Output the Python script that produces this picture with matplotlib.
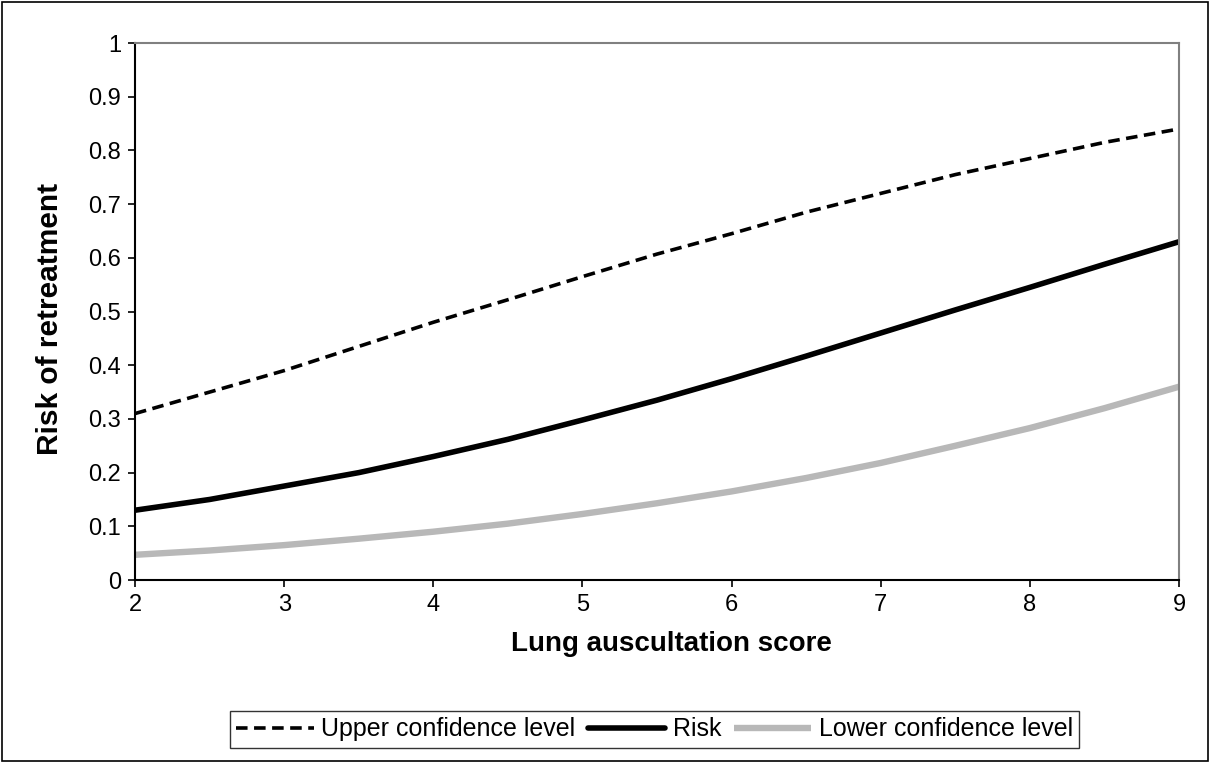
import matplotlib.pyplot as plt
from matplotlib.patches import Rectangle

plt.rcParams['font.family'] = ['Liberation Sans', 'DejaVu Sans']

# values
score = [2, 2.5, 3, 3.5, 4, 4.5, 5, 5.5, 6, 6.5, 7, 7.5, 8, 8.5, 9]
upper = [0.31, 0.35, 0.39, 0.435, 0.48, 0.522, 0.565, 0.607, 0.645, 0.685, 0.72, 0.755, 0.785, 0.815, 0.84]
risk = [0.13, 0.15, 0.175, 0.2, 0.23, 0.262, 0.298, 0.335, 0.375, 0.417, 0.46, 0.503, 0.545, 0.588, 0.63]
lower = [0.047, 0.055, 0.065, 0.077, 0.09, 0.105, 0.123, 0.143, 0.165, 0.19, 0.218, 0.25, 0.283, 0.32, 0.36]

xticks = [2, 3, 4, 5, 6, 7, 8, 9]
yticks = [0, 0.1, 0.2, 0.3, 0.4, 0.5, 0.6, 0.7, 0.8, 0.9, 1]
ylabels = ['0', '0.1', '0.2', '0.3', '0.4', '0.5', '0.6', '0.7', '0.8', '0.9', '1']

fig = plt.figure(figsize=(12.12, 7.63), dpi=100)
ax = fig.add_axes([0.1114, 0.2398, 0.8614, 0.7038])

ax.plot(score, upper, color='black', lw=2.6, linestyle=(0, (3.2, 1.8)),
        dash_capstyle='butt', label='Upper confidence level')
ax.plot(score, risk, color='black', lw=4.0, solid_capstyle='round', label='Risk')
ax.plot(score, lower, color='#b8b8b8', lw=4.6, solid_capstyle='butt',
        label='Lower confidence level')

ax.set_xlim(2, 9)
ax.set_ylim(0, 1)
ax.set_xticks(xticks)
ax.set_yticks(yticks)
ax.set_yticklabels(ylabels)
ax.tick_params(labelsize=17, length=5, width=1.2, direction='out', pad=5)
for s in ['top', 'right']:
    ax.spines[s].set_color('#808080')
    ax.spines[s].set_linewidth(1.5)
for s in ['left', 'bottom']:
    ax.spines[s].set_color('black')
    ax.spines[s].set_linewidth(1.5)

ax.set_xlabel('Lung auscultation score', fontsize=20, fontweight='bold')
ax.set_ylabel('Risk of retreatment', fontsize=21.5, fontweight='bold')
ax.xaxis.set_label_coords(0.514, -0.094)
ax.yaxis.set_label_coords(-0.068, 0.486)

leg = fig.legend(loc='center', bbox_to_anchor=(0.540, 0.044), ncol=3, fontsize=18,
                 frameon=True, fancybox=False, edgecolor='black', handlelength=3.1,
                 handletextpad=0.3, columnspacing=0.5, borderpad=0.25)
leg.get_frame().set_linewidth(1.0)

fig.patches.append(Rectangle((0.002, 0.003), 0.995, 0.994, transform=fig.transFigure,
                             fill=False, edgecolor='black', lw=1.2))

plt.savefig('out.png', dpi=100)
